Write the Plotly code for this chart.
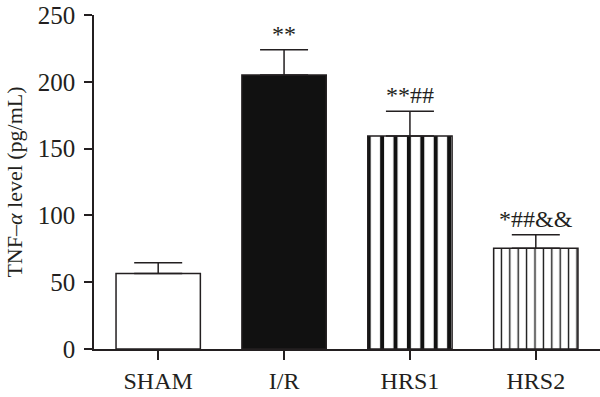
import plotly.graph_objects as go

categories = ["SHAM", "I/R", "HRS1", "HRS2"]
means = [56.5, 205, 159.5, 75.5]
errors = [8, 19, 18.5, 10]
labels = ["", "**", "**##", "*##&&"]
y_ticks = [0, 50, 100, 150, 200, 250]

FONT = "Liberation Serif, Times New Roman, serif"
INK = "#231f20"

fills = ["white", "#111111", "white", "white"]
pattern_shapes = ["", "", "|", "|"]
pattern_sizes = [8, 8, 13.4, 8.4]
pattern_solidity = [0.3, 0.3, 0.3, 0.16]

fig = go.Figure()
for i, cat in enumerate(categories):
    marker = dict(color=fills[i], line=dict(color=INK, width=1.5))
    if pattern_shapes[i]:
        marker["pattern"] = dict(shape=pattern_shapes[i], size=pattern_sizes[i],
                                 solidity=pattern_solidity[i], fgcolor="#111111",
                                 bgcolor="white", fillmode="replace")
    fig.add_trace(go.Bar(
        x=[cat], y=[means[i]], width=0.67, marker=marker,
        error_y=dict(type="data", symmetric=False, array=[errors[i]], arrayminus=[0],
                     color=INK, thickness=1.5, width=24),
        showlegend=False, hoverinfo="skip",
    ))

for i, cat in enumerate(categories):
    if labels[i]:
        fig.add_annotation(x=cat, y=means[i] + errors[i], text=labels[i], showarrow=False,
                           yanchor="bottom", yshift=1,
                           font=dict(family=FONT, size=24, color=INK))

fig.update_layout(
    width=600, height=397,
    margin=dict(l=94, r=0, t=15, b=48),
    paper_bgcolor="white", plot_bgcolor="white",
    font=dict(family=FONT, size=24, color=INK),
    bargap=0.33,
)
fig.update_xaxes(
    range=[-0.51, 3.51], showline=True, linecolor=INK, linewidth=1.5,
    ticks="outside", ticklen=9, tickwidth=1.5, tickcolor=INK,
    showgrid=False, zeroline=False,
    tickfont=dict(family=FONT, size=24, color=INK),
)
fig.update_yaxes(
    range=[0, 250], tickvals=y_ticks, showline=True, linecolor=INK, linewidth=1.5,
    ticks="outside", ticklen=8, tickwidth=1.5, tickcolor=INK,
    showgrid=False, zeroline=False, ticklabelstandoff=4,
    tickfont=dict(family=FONT, size=25, color=INK),
    title=dict(text="TNF–<i>α</i> level (pg/mL)", font=dict(family=FONT, size=22, color=INK),
               standoff=9),
)

fig.write_html("out.html", config={"displayModeBar": False},
               post_script="document.body.style.margin='0';document.body.style.overflow='hidden';")
